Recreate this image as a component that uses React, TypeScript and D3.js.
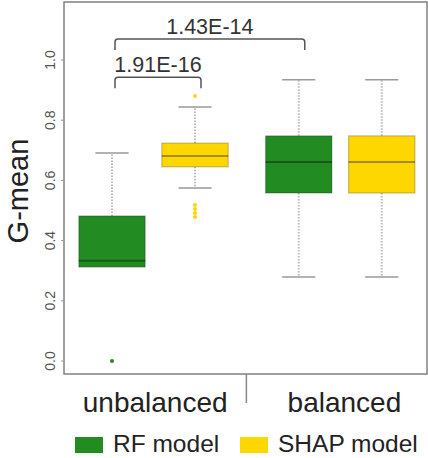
import React from "react";
import * as d3 from "d3";

// ---- data ----
const groups = ["unbalanced", "balanced"];
const series = ["RF model", "SHAP model"];
const seriesColors = ["#228B22", "#FFD700"];
// box positions (R-style "at"), one per box
const boxPositions = [1, 2, 3.25, 4.25];
const boxSeries = [0, 1, 0, 1];
const lowerWhisker = [0.312, 0.575, 0.279, 0.279];
const q1 = [0.312, 0.645, 0.558, 0.558];
const median = [0.333, 0.681, 0.661, 0.661];
const q3 = [0.482, 0.724, 0.748, 0.748];
const upperWhisker = [0.691, 0.844, 0.934, 0.934];
const outliers: number[][] = [
  [0.0],
  [0.88, 0.518, 0.505, 0.492, 0.478],
  [],
  [],
];
const yTicks = [0, 0.2, 0.4, 0.6, 0.8, 1.0];
const groupCenters = [1.52, 3.8];
const groupSeparator = [2.625];
const brackets = [
  { from: 1, to: 2, y: 0.943, label: "1.91E-16" },
  { from: 1, to: 3.25, y: 1.07, label: "1.43E-14" },
];

const W = 428;
const H = 458;
const plotLeft = 64;
const plotRight = 427;
const plotTop = 2;
const plotBottom = 374;

export default function App() {
  const x = d3.scaleLinear().domain([1, 2]).range([112, 195]);
  const y = d3.scaleLinear().domain([0, 1]).range([361, 60]);
  const boxW = x(1.8) - x(1);
  const capW = boxW / 2;
  const font = "'Liberation Sans', Arial, sans-serif";

  return (
    <svg
      width={W}
      height={H}
      style={{ position: "absolute", left: 0, top: 0, background: "#fff" }}
      fontFamily={font}
    >
      <rect x={0} y={0} width={W} height={H} fill="#fff" />
      {/* frame */}
      <rect
        x={plotLeft}
        y={plotTop}
        width={plotRight - plotLeft}
        height={plotBottom - plotTop}
        fill="none"
        stroke="#808080"
        strokeWidth={1.5}
      />
      {/* y axis ticks */}
      {yTicks.map((t) => (
        <g key={t}>
          <line x1={plotLeft - 3} x2={plotLeft} y1={y(t)} y2={y(t)} stroke="#999" strokeWidth={1} />
          <text
            transform={`translate(55,${y(t)}) rotate(-90)`}
            textAnchor="middle"
            fontSize={14}
            fill="#555"
          >
            {t.toFixed(1)}
          </text>
        </g>
      ))}
      {/* y label */}
      <text
        transform={`translate(28,191) rotate(-90)`}
        textAnchor="middle"
        fontSize={29}
        fill="#222"
      >
        G-mean
      </text>
      {/* boxes */}
      {boxPositions.map((p, i) => {
        const cx = x(p);
        const color = seriesColors[boxSeries[i]];
        return (
          <g key={i}>
            <line x1={cx} x2={cx} y1={y(q3[i])} y2={y(upperWhisker[i])} stroke="#bbb" strokeWidth={2} strokeDasharray="1.5,1.5" />
            <line x1={cx} x2={cx} y1={y(q1[i])} y2={y(lowerWhisker[i])} stroke="#bbb" strokeWidth={2} strokeDasharray="1.5,1.5" />
            <line x1={cx - capW / 2} x2={cx + capW / 2} y1={y(upperWhisker[i])} y2={y(upperWhisker[i])} stroke="#999" strokeWidth={1.5} />
            {lowerWhisker[i] < q1[i] && (
              <line x1={cx - capW / 2} x2={cx + capW / 2} y1={y(lowerWhisker[i])} y2={y(lowerWhisker[i])} stroke="#999" strokeWidth={1.5} />
            )}
            <rect
              x={cx - boxW / 2}
              y={y(q3[i])}
              width={boxW}
              height={y(q1[i]) - y(q3[i])}
              fill={color}
              stroke="rgba(0,0,0,0.22)"
              strokeWidth={1.2}
            />
            <line x1={cx - boxW / 2} x2={cx + boxW / 2} y1={y(median[i])} y2={y(median[i])} stroke="rgba(0,0,0,0.35)" strokeWidth={2} />
            {outliers[i].map((o, j) => (
              <circle key={j} cx={cx} cy={y(o)} r={2} fill={color} />
            ))}
          </g>
        );
      })}
      {/* brackets */}
      {brackets.map((b, i) => {
        const x1 = x(b.from) + 3;
        const x2 = x(b.to) + 6;
        const yy = y(b.y);
        const drop = 11;
        const r = 3;
        const path = `M${x1},${yy + drop} L${x1},${yy + r} Q${x1},${yy} ${x1 + r},${yy} L${x2 - r},${yy} Q${x2},${yy} ${x2},${yy + r} L${x2},${yy + drop}`;
        return (
          <g key={i}>
            <path d={path} fill="none" stroke="#555" strokeWidth={1.5} />
            <text x={(x1 + x2) / 2} y={yy - 5} textAnchor="middle" fontSize={21.5} fill="#333">
              {b.label}
            </text>
          </g>
        );
      })}
      {/* x axis group labels */}
      {groups.map((g, i) => (
        <text key={g} x={x(groupCenters[i])} y={412} textAnchor="middle" fontSize={28} fill="#222">
          {g}
        </text>
      ))}
      {groupSeparator.map((s, i) => (
        <line key={i} x1={x(s) - 0.5} x2={x(s) - 0.5} y1={plotBottom} y2={403} stroke="#888" strokeWidth={1.5} />
      ))}
      {/* legend */}
      {series.map((s, i) => {
        const lx = i === 0 ? 75 : 240;
        return (
          <g key={s}>
            <rect x={lx} y={437} width={28} height={16} fill={seriesColors[i]} />
            <text x={lx + 38} y={452} fontSize={24.5} fill="#222">
              {s}
            </text>
          </g>
        );
      })}
    </svg>
  );
}
